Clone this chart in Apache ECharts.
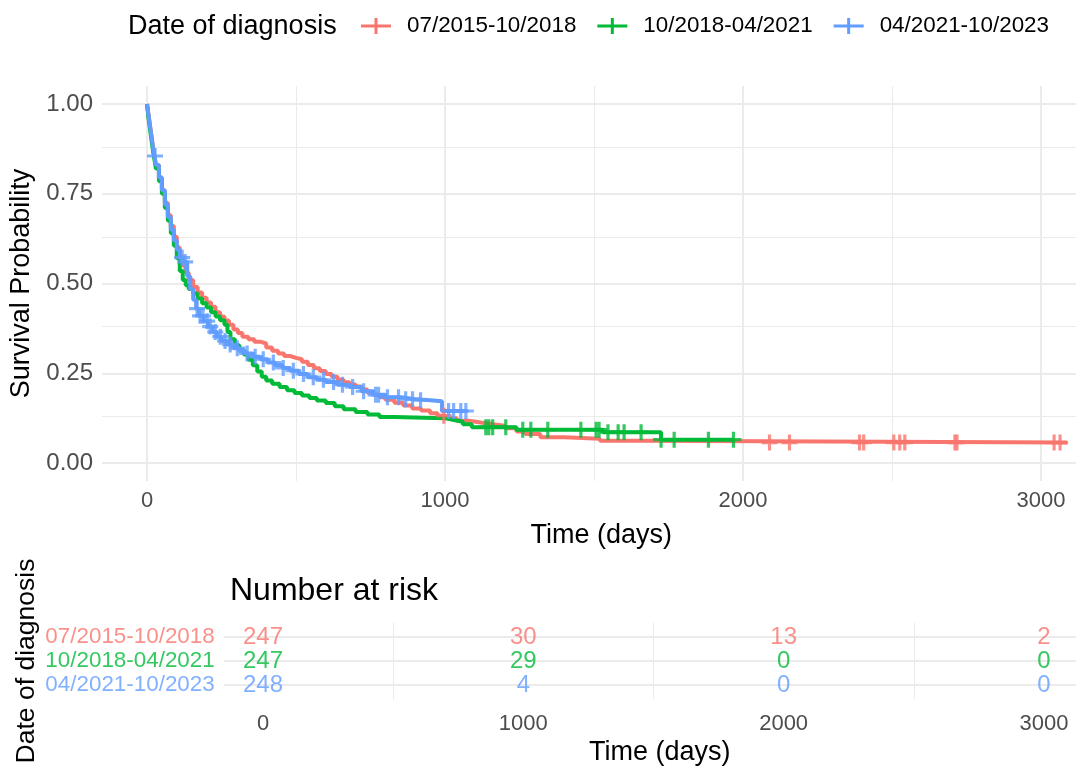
<!DOCTYPE html>
<html><head><meta charset="utf-8">
<script src="https://cdn.jsdelivr.net/npm/echarts@6/dist/echarts.min.js"></script>
<style>html,body{margin:0;padding:0;background:#fff}#c{width:1076px;height:767px}</style>
</head><body><div id="c"></div>
<script>
const groups = ['07/2015-10/2018', '10/2018-04/2021', '04/2021-10/2023'];
const colors = ['#F8766D', '#00BA38', '#619CFF'];

const redTimes = [0,5,10,15,20,25,30,40,50,60,70,80,90,100,110,120,130,140,155,170,185,200,215,230,245,260,275,290,305,320,340,360,380,400,420,440,460,480,500,520,540,560,580,600,620,640,660,680,700,720,740,760,780,800,830,860,890,920,950,975,1000,1040,1080,1120,1160,1200,1240,1270,1320,1400,1520,1660,3088];
const redSurv = [1,0.97,0.94,0.91,0.88,0.855,0.83,0.795,0.76,0.725,0.69,0.66,0.63,0.6,0.575,0.55,0.53,0.51,0.49,0.475,0.46,0.447,0.435,0.42,0.408,0.397,0.385,0.372,0.362,0.352,0.345,0.338,0.333,0.322,0.313,0.305,0.298,0.293,0.289,0.282,0.273,0.264,0.256,0.248,0.24,0.232,0.225,0.219,0.213,0.205,0.196,0.19,0.183,0.176,0.168,0.16,0.152,0.146,0.139,0.132,0.125,0.118,0.113,0.108,0.104,0.097,0.088,0.081,0.072,0.068,0.062,0.057,0.057];
const redCensor = [996,2089,2156,2391,2405,2506,2526,2543,2711,2718,3044,3064];

const greenTimes = [0,5,10,15,20,25,30,40,50,60,70,80,90,100,110,120,130,140,155,170,185,200,215,230,245,260,270,280,295,310,325,340,355,370,385,400,420,445,470,495,520,545,570,600,630,660,700,740,780,830,1000,1030,1060,1090,1240,1530,1725,1971];
const greenSurv = [1,0.96,0.93,0.9,0.87,0.845,0.82,0.785,0.75,0.71,0.675,0.64,0.605,0.57,0.535,0.51,0.495,0.485,0.472,0.458,0.445,0.433,0.42,0.408,0.398,0.385,0.365,0.345,0.328,0.315,0.302,0.288,0.272,0.255,0.24,0.23,0.221,0.212,0.203,0.195,0.188,0.181,0.174,0.167,0.158,0.15,0.142,0.135,0.128,0.125,0.12,0.115,0.108,0.1,0.093,0.086,0.065,0.065];
const greenCensor = [1137,1147,1160,1204,1261,1288,1345,1456,1507,1517,1547,1581,1601,1658,1725,1769,1884,1968];

const blueTimes = [0,5,10,15,20,25,30,40,50,60,70,80,90,100,110,120,135,145,155,165,175,190,205,220,235,250,270,290,310,330,355,380,405,430,455,480,510,540,570,600,640,680,720,760,800,850,900,950,990,1075];
const blueSurv = [1,0.97,0.94,0.91,0.88,0.855,0.83,0.795,0.76,0.72,0.685,0.65,0.62,0.595,0.572,0.56,0.52,0.485,0.455,0.43,0.41,0.395,0.38,0.365,0.352,0.34,0.33,0.32,0.312,0.305,0.296,0.289,0.28,0.272,0.265,0.257,0.248,0.239,0.232,0.226,0.218,0.212,0.2,0.19,0.183,0.178,0.175,0.172,0.145,0.145];
const blueCensor = [27,118,128,168,178,188,202,212,229,246,262,279,303,336,363,390,424,457,491,525,558,592,626,656,690,727,767,777,807,844,868,891,918,1012,1029,1053,1070];

const xTicks = [0, 1000, 2000, 3000];
const xMinor = [500, 1500, 2500];
const yTicks = [0, 0.25, 0.5, 0.75, 1];
const yMinor = [0.125, 0.375, 0.625, 0.875];

const riskTimes = [0, 1000, 2000, 3000];
const redRisk = [247, 30, 13, 2];
const greenRisk = [247, 29, 0, 0];
const blueRisk = [248, 4, 0, 0];

const X_MIN = -151, X_MAX = 3200;
const FONT = 'Liberation Sans';

function survAt(times, surv, t) {
  let s = surv[0];
  for (let i = 0; i < times.length; i++) { if (times[i] <= t) s = surv[i]; else break; }
  return s;
}
const curves = [[redTimes, redSurv, redCensor], [greenTimes, greenSurv, greenCensor], [blueTimes, blueSurv, blueCensor]];
const risks = [redRisk, greenRisk, blueRisk];

const plusIcon = 'path://M6.4,0 H9.6 V6.4 H16 V9.6 H9.6 V16 H6.4 V9.6 H0 V6.4 H6.4 Z';
const legendIcon = 'path://M0,6.5 H30 V9.5 H0 Z M13.5,0 H16.5 V16 H13.5 Z';
const GRID = '#EBEBEB';

const series = [];
series.push({
  type: 'line', xAxisIndex: 0, yAxisIndex: 0, data: [], silent: true, z: 0,
  markLine: {
    silent: true, symbol: 'none', z: 1, animation: false, label: { show: false },
    data: [].concat(
      xMinor.map(v => ({ xAxis: v, lineStyle: { color: GRID, width: 1, type: 'solid' } })),
      yMinor.map(v => ({ yAxis: v, lineStyle: { color: GRID, width: 1, type: 'solid' } })),
      xTicks.map(v => ({ xAxis: v, lineStyle: { color: GRID, width: 2, type: 'solid' } })),
      yTicks.map(v => ({ yAxis: v, lineStyle: { color: GRID, width: 2, type: 'solid' } }))
    )
  }
});
series.push({
  type: 'line', xAxisIndex: 1, yAxisIndex: 1, data: [], silent: true, z: 0,
  markLine: {
    silent: true, symbol: 'none', z: 1, animation: false, label: { show: false },
    data: [].concat(
      xMinor.map(v => ({ xAxis: v, lineStyle: { color: GRID, width: 1, type: 'solid' } })),
      groups.map((g, i) => ({ yAxis: i, lineStyle: { color: GRID, width: 2, type: 'solid' } }))
    )
  }
});

curves.forEach((c, i) => {
  series.push({
    name: groups[i], type: 'line', xAxisIndex: 0, yAxisIndex: 0, step: 'end',
    showSymbol: false, z: 3 + i, color: colors[i],
    lineStyle: { width: 4, color: colors[i] },
    data: c[0].map((t, k) => [t, c[1][k]])
  });
});
curves.forEach((c, i) => {
  series.push({
    name: groups[i], type: 'scatter', xAxisIndex: 0, yAxisIndex: 0, z: 6 + i,
    symbol: plusIcon, symbolSize: 16, itemStyle: { color: colors[i] },
    data: c[2].map(t => [t, survAt(c[0], c[1], t)])
  });
});
risks.forEach((r, i) => {
  series.push({
    type: 'scatter', xAxisIndex: 1, yAxisIndex: 1, symbolSize: 0, z: 5, silent: true,
    label: { show: true, position: 'inside', fontSize: 24, color: colors[i], fontFamily: FONT,
      formatter: p => String(p.value[2]) },
    data: riskTimes.map((t, k) => [t, i, r[k]])
  });
});
series.push({
  type: 'scatter', xAxisIndex: 1, yAxisIndex: 1, symbolSize: 0, z: 5, silent: true,
  label: { show: true, position: 'left', distance: 9, fontSize: 22.4, fontFamily: FONT,
    formatter: p => groups[p.value[1]] },
  data: groups.map((g, i) => ({ value: [X_MIN, i], label: { color: colors[i] } }))
});

const chart = echarts.init(document.getElementById('c'), null, { renderer: 'canvas' });
chart.setOption({
  animation: false,
  textStyle: { fontFamily: FONT },
  grid: [
    { left: 102, top: 86, width: 998.6, height: 395, outerBoundsMode: 'none', containLabel: false },
    { left: 223.7, top: 622.6, width: 872.3, height: 76.8, outerBoundsMode: 'none', containLabel: false }
  ],
  legend: {
    left: 361, top: 15, padding: 0, itemWidth: 30, itemHeight: 16, itemGap: 21, width: 800,
    textStyle: { fontSize: 22.4, color: '#000', fontFamily: FONT, padding: [0, 0, 0, 11] },
    data: groups.map((g, i) => ({ name: g, icon: legendIcon, itemStyle: { color: colors[i] } }))
  },
  xAxis: [
    { type: 'value', gridIndex: 0, min: X_MIN, max: X_MAX,
      axisLine: { show: false },
      axisTick: { show: true, customValues: xTicks, length: 5, lineStyle: { color: '#333', width: 1.5 } },
      axisLabel: { customValues: xTicks, fontSize: 22, color: '#4D4D4D', margin: 9, fontFamily: FONT, formatter: v => String(v) },
      splitLine: { show: false },
      name: 'Time (days)', nameLocation: 'middle', nameGap: 41,
      nameTextStyle: { fontSize: 27, color: '#000', fontFamily: FONT } },
    { type: 'value', gridIndex: 1, min: X_MIN, max: X_MAX,
      axisLine: { show: false }, axisTick: { show: false },
      axisLabel: { customValues: xTicks, fontSize: 22, color: '#4D4D4D', margin: 14, fontFamily: FONT, formatter: v => String(v) },
      splitLine: { show: false },
      name: 'Time (days)', nameLocation: 'middle', nameGap: 40,
      nameTextStyle: { fontSize: 27, color: '#000', fontFamily: FONT } }
  ],
  yAxis: [
    { type: 'value', gridIndex: 0, min: -0.05, max: 1.05,
      axisLine: { show: false },
      axisTick: { show: true, customValues: yTicks, length: 5, lineStyle: { color: '#333', width: 1.5 } },
      axisLabel: { customValues: yTicks, fontSize: 24, color: '#4D4D4D', margin: 9, fontFamily: FONT, formatter: v => v.toFixed(2) },
      splitLine: { show: false },
      name: 'Survival Probability', nameLocation: 'middle', nameRotate: 90, nameGap: 60,
      nameTextStyle: { fontSize: 27, color: '#000', fontFamily: FONT } },
    { type: 'value', gridIndex: 1, min: -0.6, max: 2.6, inverse: true,
      axisLine: { show: false }, axisTick: { show: false }, axisLabel: { show: false },
      splitLine: { show: false },
      name: 'Date of diagnosis', nameLocation: 'middle', nameRotate: 90, nameGap: 184,
      nameTextStyle: { fontSize: 26.5, color: '#000', fontFamily: FONT } }
  ],
  graphic: [
    { type: 'text', style: { x: 128, y: 27, text: 'Date of diagnosis', fontSize: 27, fill: '#000', verticalAlign: 'middle', fontFamily: FONT } },
    { type: 'text', style: { x: 230, y: 591, text: 'Number at risk', fontSize: 32, fill: '#000', verticalAlign: 'middle', fontFamily: FONT } }
  ],
  series: series
});
</script></body></html>
